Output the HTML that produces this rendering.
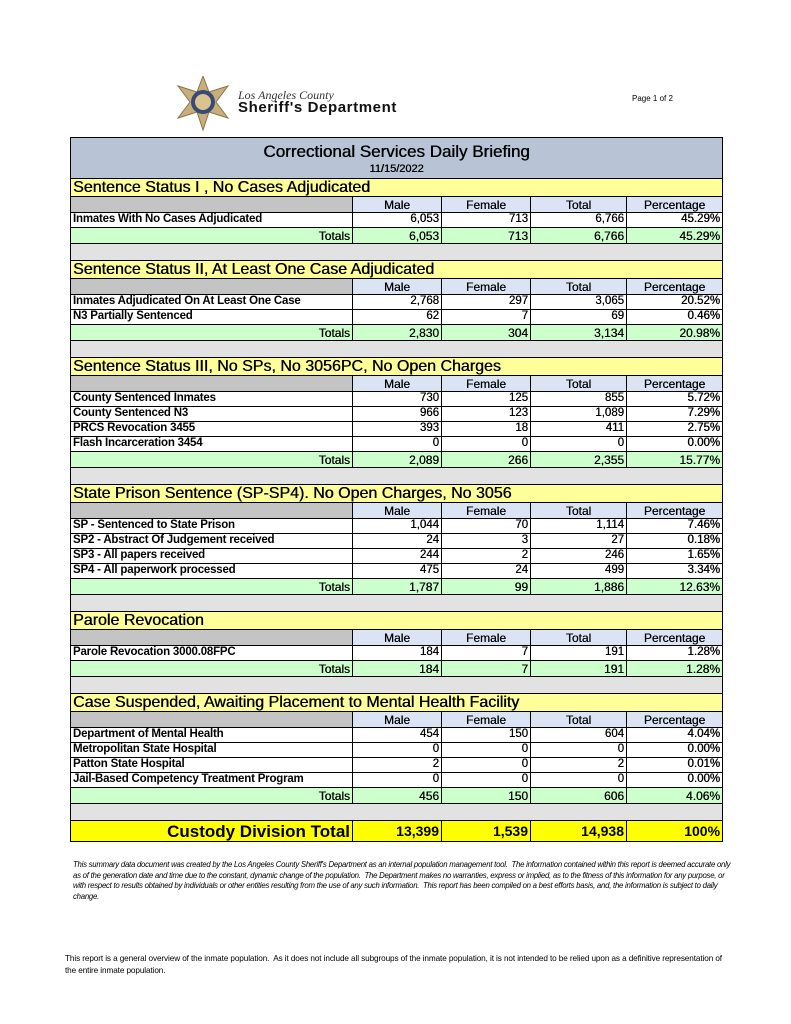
<!DOCTYPE html>
<html><head><meta charset="utf-8"><style>
body{margin:0;width:791px;height:1024px;background:#fff;position:relative;font-family:"Liberation Sans",Arial,sans-serif;overflow:hidden}
table{position:absolute;left:70px;top:137px;width:652px;border-collapse:collapse;table-layout:fixed;font-size:12px}
td{padding:0 2px;border:1px solid #000;line-height:1;overflow:hidden;white-space:nowrap}
.t td{background:#b8c4d6;text-align:center;border-bottom:none;text-shadow:0.4px 0 0 #000}
.s td{background:#ffff99;font-size:16px;height:17px;padding-left:2px;border-left:1px solid #000;border-right:1px solid #000;text-shadow:0.4px 0 0 #000}
.h td{background:#dbe4f4;text-align:center;height:15px;font-size:12px;text-shadow:0.3px 0 0 #000}
.h td:first-child{background:#c4c4c4}
.r td{height:14px;text-align:right;font-size:11.5px;font-weight:normal;text-shadow:0.3px 0 0 #000}
.r td:first-child{text-align:left;font-weight:bold;text-shadow:none;letter-spacing:-0.2px}
.tt td{background:#ccffcc;height:15px;text-align:right;text-shadow:0.3px 0 0 #000}
.g td{background:#e2e2e2;height:16px}
.c td{background:#ffff00;height:20px;text-align:right;font-size:14px;font-weight:bold}
.c td:first-child{font-size:17px}
</style></head><body>
<svg style="position:absolute;left:173px;top:76px" width="60" height="56" viewBox="0 0 60 56">
<polygon points="30,0 36,16 55,10 43,26 55,42 36,36 30,54 24,36 5,42 17,26 5,10 24,16" fill="#c8ae7a" stroke="#8a7548"/>
<circle cx="30" cy="26" r="12" fill="#3a4a78"/><circle cx="30" cy="26" r="8" fill="#d9c48e"/>
</svg>
<div style="position:absolute;left:238px;top:88px;font-family:'Liberation Serif',serif;font-style:italic;font-size:12px;color:#333">Los Angeles County</div>
<div style="position:absolute;left:238px;top:99px;font-weight:bold;font-size:15px;letter-spacing:0.6px;color:#111">Sheriff's Department</div>
<div style="position:absolute;left:632px;top:94px;font-size:8px">Page 1 of 2</div>
<table>
<colgroup><col style="width:282px"><col style="width:89px"><col style="width:89px"><col style="width:96px"><col style="width:96px"></colgroup>
<tr class="t"><td colspan="5" style="height:38px;padding-top:2px"><div style="font-size:17px">Correctional Services Daily Briefing</div><div style="font-size:11px;margin-top:4px">11/15/2022</div></td></tr>
<tr class="s"><td colspan="5">Sentence Status I , No Cases Adjudicated</td></tr>
<tr class="h"><td></td><td>Male</td><td>Female</td><td>Total</td><td>Percentage</td></tr>
<tr class="r"><td>Inmates With No Cases Adjudicated</td><td>6,053</td><td>713</td><td>6,766</td><td>45.29%</td></tr>
<tr class="tt"><td>Totals</td><td>6,053</td><td>713</td><td>6,766</td><td>45.29%</td></tr>
<tr class="g"><td colspan="5"></td></tr>
<tr class="s"><td colspan="5">Sentence Status II, At Least One Case Adjudicated</td></tr>
<tr class="h"><td></td><td>Male</td><td>Female</td><td>Total</td><td>Percentage</td></tr>
<tr class="r"><td>Inmates Adjudicated On At Least One Case</td><td>2,768</td><td>297</td><td>3,065</td><td>20.52%</td></tr>
<tr class="r"><td>N3 Partially Sentenced</td><td>62</td><td>7</td><td>69</td><td>0.46%</td></tr>
<tr class="tt"><td>Totals</td><td>2,830</td><td>304</td><td>3,134</td><td>20.98%</td></tr>
<tr class="g"><td colspan="5"></td></tr>
<tr class="s"><td colspan="5">Sentence Status III, No SPs, No 3056PC, No Open Charges</td></tr>
<tr class="h"><td></td><td>Male</td><td>Female</td><td>Total</td><td>Percentage</td></tr>
<tr class="r"><td>County Sentenced Inmates</td><td>730</td><td>125</td><td>855</td><td>5.72%</td></tr>
<tr class="r"><td>County Sentenced N3</td><td>966</td><td>123</td><td>1,089</td><td>7.29%</td></tr>
<tr class="r"><td>PRCS Revocation 3455</td><td>393</td><td>18</td><td>411</td><td>2.75%</td></tr>
<tr class="r"><td>Flash Incarceration 3454</td><td>0</td><td>0</td><td>0</td><td>0.00%</td></tr>
<tr class="tt"><td>Totals</td><td>2,089</td><td>266</td><td>2,355</td><td>15.77%</td></tr>
<tr class="g"><td colspan="5"></td></tr>
<tr class="s"><td colspan="5">State Prison Sentence (SP-SP4). No Open Charges, No 3056</td></tr>
<tr class="h"><td></td><td>Male</td><td>Female</td><td>Total</td><td>Percentage</td></tr>
<tr class="r"><td>SP - Sentenced to State Prison</td><td>1,044</td><td>70</td><td>1,114</td><td>7.46%</td></tr>
<tr class="r"><td>SP2 - Abstract Of Judgement received</td><td>24</td><td>3</td><td>27</td><td>0.18%</td></tr>
<tr class="r"><td>SP3 - All papers received</td><td>244</td><td>2</td><td>246</td><td>1.65%</td></tr>
<tr class="r"><td>SP4 - All paperwork processed</td><td>475</td><td>24</td><td>499</td><td>3.34%</td></tr>
<tr class="tt"><td>Totals</td><td>1,787</td><td>99</td><td>1,886</td><td>12.63%</td></tr>
<tr class="g"><td colspan="5"></td></tr>
<tr class="s"><td colspan="5">Parole Revocation</td></tr>
<tr class="h"><td></td><td>Male</td><td>Female</td><td>Total</td><td>Percentage</td></tr>
<tr class="r"><td>Parole Revocation 3000.08FPC</td><td>184</td><td>7</td><td>191</td><td>1.28%</td></tr>
<tr class="tt"><td>Totals</td><td>184</td><td>7</td><td>191</td><td>1.28%</td></tr>
<tr class="g"><td colspan="5"></td></tr>
<tr class="s"><td colspan="5">Case Suspended, Awaiting Placement to Mental Health Facility</td></tr>
<tr class="h"><td></td><td>Male</td><td>Female</td><td>Total</td><td>Percentage</td></tr>
<tr class="r"><td>Department of Mental Health</td><td>454</td><td>150</td><td>604</td><td>4.04%</td></tr>
<tr class="r"><td>Metropolitan State Hospital</td><td>0</td><td>0</td><td>0</td><td>0.00%</td></tr>
<tr class="r"><td>Patton State Hospital</td><td>2</td><td>0</td><td>2</td><td>0.01%</td></tr>
<tr class="r"><td>Jail-Based Competency Treatment Program</td><td>0</td><td>0</td><td>0</td><td>0.00%</td></tr>
<tr class="tt"><td>Totals</td><td>456</td><td>150</td><td>606</td><td>4.06%</td></tr>
<tr class="g"><td colspan="5"></td></tr>
<tr class="c"><td>Custody Division Total</td><td>13,399</td><td>1,539</td><td>14,938</td><td>100%</td></tr>
</table>
<div style="position:absolute;left:73px;top:860px;width:660px;font-size:7.8px;font-style:italic;line-height:10.5px;letter-spacing:-0.25px">This summary data document was created by the Los Angeles County Sheriff's Department as an internal population management tool.&nbsp; The information contained within this report is deemed accurate only as of the generation date and time due to the constant, dynamic change of the population.&nbsp; The Department makes no warranties, express or implied, as to the fitness of this information for any purpose, or with respect to results obtained by individuals or other entities resulting from the use of any such information.&nbsp; This report has been compiled on a best efforts basis, and, the information is subject to daily change.</div>
<div style="position:absolute;left:65px;top:953px;width:662px;font-size:8.2px;line-height:12px;letter-spacing:-0.1px">This report is a general overview of the inmate population.&nbsp; As it does not include all subgroups of the inmate population, it is not intended to be relied upon as a definitive representation of the entire inmate population.</div>
</body></html>
